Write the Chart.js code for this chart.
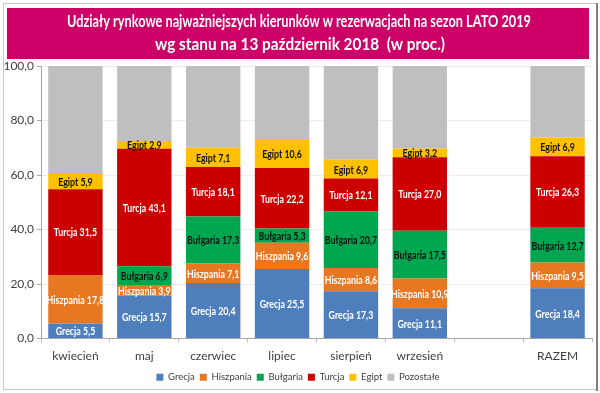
<!DOCTYPE html>
<html>
<head>
<meta charset="utf-8">
<script src="https://cdn.jsdelivr.net/npm/chart.js@4/dist/chart.umd.min.js"></script>
<style>
  html, body { margin: 0; padding: 0; background: #fff; }
  #wrap { position: relative; width: 600px; height: 393px; }
</style>
</head>
<body>
<div id="wrap"><canvas id="c" width="600" height="393"></canvas></div>
<script>
const categories = ['kwiecień', 'maj', 'czerwiec', 'lipiec', 'sierpień', 'wrzesień', '', 'RAZEM'];
const grecja     = [5.5, 15.7, 20.4, 25.5, 17.3, 11.1, null, 18.4];
const hiszpania  = [17.8, 3.9, 7.1, 9.6, 8.6, 10.9, null, 9.5];
const bulgaria   = [null, 6.9, 17.3, 5.3, 20.7, 17.5, null, 12.7];
const turcja     = [31.5, 43.1, 18.1, 22.2, 12.1, 27.0, null, 26.3];
const egipt      = [5.9, 2.9, 7.1, 10.6, 6.9, 3.2, null, 6.9];
const pozostale  = [39.3, 27.5, 30.0, 26.8, 34.4, 30.3, null, 26.2];
const yTicks     = [0, 20, 40, 60, 80, 100];
const titleLines = ['Udziały rynkowe najważniejszych kierunków w rezerwacjach na sezon LATO 2019',
                    'wg stanu na 13 październik 2018  (w proc.)'];

const FONT = 'Lato, "Open Sans", sans-serif';

const series = [
  { label: 'Grecja',    data: grecja,    color: '#4F7EBD', text: '#FFFFFF', show: true },
  { label: 'Hiszpania', data: hiszpania, color: '#E87722', text: '#FFFFFF', show: true },
  { label: 'Bułgaria',  data: bulgaria,  color: '#00A550', text: '#111111', show: true },
  { label: 'Turcja',    data: turcja,    color: '#CC0000', text: '#FFFFFF', show: true },
  { label: 'Egipt',     data: egipt,     color: '#FFC000', text: '#111111', show: true },
  { label: 'Pozostałe', data: pozostale, color: '#BFBFBF', text: '#111111', show: false }
];

const fmt = v => v.toFixed(1).replace('.', ',');

const framePlugin = {
  id: 'frame',
  beforeDraw(chart) {
    const ctx = chart.ctx;
    ctx.save();
    ctx.fillStyle = '#FFFFFF';
    ctx.fillRect(0, 0, chart.width, chart.height);
    ctx.strokeStyle = '#C8C8C8';
    ctx.lineWidth = 1;
    ctx.strokeRect(3.5, 3.5, 593, 386);
    ctx.fillStyle = '#7F7F7F';
    ctx.fillRect(596, 3, 2, 388);
    // title box
    ctx.fillStyle = '#CC0066';
    ctx.fillRect(7, 8, 582, 51);
    ctx.fillStyle = '#FFFFFF';
    ctx.textAlign = 'center';
    ctx.textBaseline = 'middle';
    ctx.font = 'bold 17px ' + FONT;
    ctx.fillText(titleLines[0], 299, 22, 464);
    ctx.fillText(titleLines[1], 300, 45, 290);
    ctx.restore();
  }
};

const labelPlugin = {
  id: 'segLabels',
  afterDatasetsDraw(chart) {
    const ctx = chart.ctx;
    ctx.save();
    ctx.textAlign = 'center';
    ctx.textBaseline = 'middle';
    ctx.font = 'bold 10.5px ' + FONT;
    chart.data.datasets.forEach((ds, di) => {
      const s = series[di];
      if (!s.show) return;
      const meta = chart.getDatasetMeta(di);
      meta.data.forEach((el, i) => {
        const v = ds.data[i];
        if (v === null || v === undefined) return;
        const txt = s.label + ' ' + fmt(v);
        const w = ctx.measureText(txt).width;
        ctx.fillStyle = s.text;
        ctx.fillText(txt, el.x, (el.y + el.base) / 2 + 1, w * 0.84);
      });
    });
    ctx.restore();
  }
};

new Chart(document.getElementById('c'), {
  type: 'bar',
  data: {
    labels: categories,
    datasets: series.map(s => ({
      label: s.label,
      data: s.data,
      backgroundColor: s.color,
      borderWidth: 0,
      barPercentage: 0.79,
      categoryPercentage: 1.0
    }))
  },
  options: {
    responsive: false,
    animation: false,
    layout: { padding: { top: 66, left: 4, right: 8, bottom: 1 } },
    plugins: {
      title: { display: false },
      tooltip: { enabled: false },
      legend: {
        position: 'bottom',
        labels: {
          boxWidth: 7,
          boxHeight: 7,
          padding: 5,
          color: '#404040',
          font: { family: FONT, size: 9.5 }
        }
      }
    },
    scales: {
      x: {
        stacked: true,
        offset: true,
        afterFit: s => { s.height = 29; },
        grid: {
          offset: true,
          drawOnChartArea: false,
          drawTicks: true,
          tickLength: 4,
          color: '#BFBFBF'
        },
        border: { color: '#A6A6A6' },
        ticks: { color: '#404040', font: { family: FONT, size: 12 }, padding: 6, maxRotation: 0 }
      },
      y: {
        stacked: true,
        min: 0,
        max: 100,
        afterFit: s => { s.width = 37; },
        afterBuildTicks: s => { s.ticks = yTicks.map(v => ({ value: v })); },
        grid: {
          color: '#EDEDED',
          tickLength: 4,
          tickColor: '#A6A6A6'
        },
        border: { color: '#A6A6A6' },
        ticks: {
          color: '#404040',
          font: { family: FONT, size: 12 },
          padding: 3,
          callback: v => fmt(v)
        }
      }
    }
  },
  plugins: [framePlugin, labelPlugin]
});
</script>
</body>
</html>
